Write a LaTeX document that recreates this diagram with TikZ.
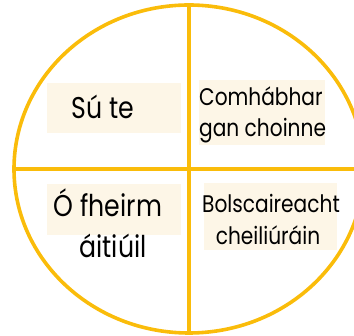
\documentclass[tikz,border=0pt]{standalone}
\usepackage{fontspec}
\setmainfont[FakeStretch=0.84]{Poppins}
\definecolor{ring}{RGB}{250,188,10}
\definecolor{cream}{RGB}{253,246,231}
\begin{document}
\begin{tikzpicture}[x=1pt,y=-1pt,
  ringline/.style={draw=ring,line width=3.6pt},
  pad/.style={fill=cream,draw=none,inner sep=0pt,anchor=north west},
  bigtxt/.style={font=\fontsize{30}{30}\selectfont,inner sep=0pt,anchor=base},
  smalltxt/.style={font=\fontsize{24}{24}\selectfont,inner sep=0pt,anchor=base}]
\useasboundingbox (0,0) rectangle (354,336);
\clip (0,0) rectangle (354,336);
% pads
\node[pad,minimum width=134pt,minimum height=50pt] (p1) at (47,83) {};
\node[pad,minimum width=126pt,minimum height=65pt] (p2) at (199,80) {};
\node[pad,minimum width=134pt,minimum height=51pt] (p3) at (47,184) {};
\node[pad,minimum width=133pt,minimum height=67pt] (p4) at (204,183) {};
% ring and cross
\coordinate (c) at (189,169);
\draw[ringline] (c) ellipse [x radius=175pt, y radius=164pt];
\coordinate (top) at (189,5);
\coordinate (bot) at (189,333);
\coordinate (lft) at (14,169);
\coordinate (rgt) at (364,169);
\draw[ringline] (top) -- (bot);
\draw[ringline] (lft) -- (rgt);
% texts
\node[bigtxt] (t1) at (103,119) {Sú te};
\node[smalltxt,anchor=base west] (t2a) at (199,106) {Comhábhar};
\node[smalltxt,anchor=base west] (t2b) at (199,137) {gan choinne};
\node[bigtxt] (t3a) at (108,217) {Ó fheirm};
\node[bigtxt] (t3b) at (113,258) {áitiúil};
\node[smalltxt] (t4a) at (271,213) {Bolscaireacht};
\node[smalltxt] (t4b) at (268,245) {cheiliúráin};
\end{tikzpicture}
\end{document}
